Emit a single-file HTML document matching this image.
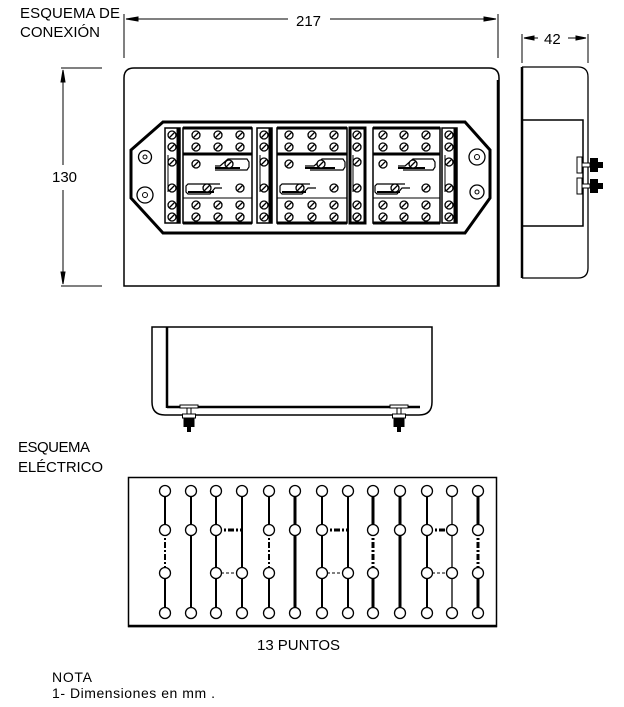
<!DOCTYPE html>
<html><head><meta charset="utf-8"><style>
html,body{margin:0;padding:0;background:#fff;}
svg{display:block}
text{font-family:"Liberation Sans",sans-serif;fill:#000}
</style></head><body>
<svg width="624" height="707" viewBox="0 0 624 707" xmlns="http://www.w3.org/2000/svg">
<defs>
<g id="s"><circle r="4" fill="#fff" stroke="#000" stroke-width="1.3"/><line x1="-2.5" y1="2.5" x2="2.5" y2="-2.5" stroke="#000" stroke-width="1.3"/></g>
<g id="n"><circle r="5.5" fill="#fff" stroke="#000" stroke-width="1.3"/></g>
<g id="ft"><rect x="-9" y="-3" width="18" height="3" fill="#fff" stroke="#000"/><rect x="-2" y="0" width="4" height="6" fill="#fff" stroke="#000"/><rect x="-6.5" y="6" width="13" height="4" fill="#fff" stroke="#000"/><rect x="-5.5" y="10" width="11" height="9" fill="#000"/><rect x="-2" y="19" width="4" height="5" fill="#000"/></g>
<g id="tm"><rect x="0" y="0" width="5" height="16" fill="#fff" stroke="#000"/><rect x="5" y="6" width="8" height="4" fill="#fff" stroke="#000"/><rect x="13" y="1" width="8" height="14" fill="#000"/><rect x="21" y="5" width="5" height="6" fill="#000"/></g>
</defs>
<g font-size="15">
<text x="20" y="18" textLength="100">ESQUEMA DE</text>
<text x="20" y="37" textLength="80">CONEXIÓN</text>
<text x="18" y="452" textLength="72">ESQUEMA</text>
<text x="18" y="472" textLength="85">ELÉCTRICO</text>
<text x="257" y="650" textLength="83">13 PUNTOS</text>
<text x="52" y="682" font-size="14" textLength="40">NOTA</text>
<text x="52" y="698" font-size="14" textLength="163">1- Dimensiones en mm .</text>
<text x="296" y="26">217</text>
<text x="52" y="182">130</text>
<text x="544" y="44">42</text>
</g>
<g stroke="#000" fill="none" stroke-width="1">
<line x1="124" y1="14" x2="124" y2="58"/><line x1="498" y1="14" x2="498" y2="58"/>
<line x1="126" y1="19" x2="288" y2="19"/><line x1="330" y1="19" x2="496" y2="19"/>
<polygon points="126,19 138,17 138,21" fill="#000"/><polygon points="496,19 484,17 484,21" fill="#000"/>
<line x1="61" y1="68" x2="102" y2="68"/><line x1="61" y1="286" x2="102" y2="286"/>
<line x1="63" y1="70" x2="63" y2="165"/><line x1="63" y1="190" x2="63" y2="284"/>
<polygon points="63,70 61,82 65,82" fill="#000"/><polygon points="63,284 61,272 65,272" fill="#000"/>
<line x1="522" y1="34" x2="522" y2="63"/><line x1="588" y1="34" x2="588" y2="63"/>
<line x1="524" y1="38" x2="538" y2="38"/><line x1="568" y1="38" x2="586" y2="38"/>
<polygon points="524,38 534,36 534,40" fill="#000"/><polygon points="586,38 576,36 576,40" fill="#000"/>
<path d="M124,286 L124,78 Q124,68 134,68 L489,68 Q499,68 499,78 L499,286 Z" stroke-width="1.5"/>
<line x1="498" y1="80" x2="498" y2="286" stroke-width="2.5"/>
<polygon points="163,122 465,122 490,150 490,198 465,233 163,233 131,198 131,150" stroke-width="3"/>
<circle cx="145" cy="157" r="6.5" stroke-width="1.3"/><circle cx="145" cy="157" r="2" />
<circle cx="145" cy="195" r="8" stroke-width="1.3"/><circle cx="145" cy="195" r="2.5"/>
<circle cx="477" cy="157" r="8" stroke-width="1.3"/><circle cx="477" cy="157" r="2.5"/>
<circle cx="477" cy="192" r="7" stroke-width="1.3"/><circle cx="477" cy="192" r="2"/>
<g stroke-width="1.5">
<rect x="165" y="128" width="15" height="95"/><line x1="178" y1="128" x2="178" y2="223" stroke-width="3"/>
<rect x="257" y="128" width="15" height="95"/><line x1="270" y1="128" x2="270" y2="223" stroke-width="3"/>
<rect x="350" y="128" width="15" height="95" stroke-width="3"/>
<rect x="442" y="128" width="15" height="95"/><line x1="455" y1="128" x2="455" y2="223" stroke-width="3"/>
<rect x="183" y="128" width="69" height="95"/>
<rect x="277" y="128" width="70" height="95"/>
<rect x="373" y="128" width="67" height="95"/>
<line x1="183" y1="128" x2="252" y2="128" stroke-width="3"/><line x1="277" y1="128" x2="347" y2="128" stroke-width="3"/><line x1="373" y1="128" x2="440" y2="128" stroke-width="3"/>
<line x1="183" y1="223" x2="252" y2="223" stroke-width="3"/><line x1="277" y1="223" x2="347" y2="223" stroke-width="3"/><line x1="373" y1="223" x2="440" y2="223" stroke-width="3"/>
</g>
<g stroke-width="3">
<line x1="183" y1="154" x2="252" y2="154"/><line x1="277" y1="154" x2="347" y2="154"/><line x1="373" y1="154" x2="440" y2="154"/>
</g>
<line x1="183" y1="198" x2="252" y2="198"/><line x1="277" y1="198" x2="347" y2="198"/><line x1="373" y1="198" x2="440" y2="198"/>
<line x1="168" y1="155" x2="168" y2="192"/><line x1="260" y1="155" x2="260" y2="192"/><line x1="353" y1="155" x2="353" y2="192"/><line x1="445" y1="155" x2="445" y2="192"/>
<g stroke-width="1.2">
<path d="M215,170 L247,170 L249,167 L249,162 L247,159 L228,159 L220,166 L215,166"/><line x1="215" y1="168" x2="240" y2="168" stroke-width="2"/>
<path d="M220,184 L188,184 L186,186 L186,192 L188,194 L210,194 L215,188 L222,188"/><line x1="188" y1="192" x2="214" y2="192" stroke-width="2"/>
<path d="M310,170 L343,170 L345,167 L345,162 L343,159 L322,159 L314,166 L305,166"/><line x1="305" y1="168" x2="335" y2="168" stroke-width="2"/>
<path d="M310,184 L282,184 L280,186 L280,192 L282,194 L302,194 L308,188 L316,188"/><line x1="282" y1="192" x2="306" y2="192" stroke-width="2"/>
<path d="M403,170 L433,170 L435,167 L435,162 L433,159 L413,159 L405,166 L398,166"/><line x1="398" y1="168" x2="425" y2="168" stroke-width="2"/>
<path d="M405,184 L377,184 L375,186 L375,192 L377,194 L397,194 L402,188 L410,188"/><line x1="377" y1="192" x2="400" y2="192" stroke-width="2"/>
</g>
<path d="M522,67 L578,67 Q588,67 588,77 L588,268 Q588,278 578,278 L522,278" stroke-width="1.3"/>
<line x1="522" y1="67" x2="522" y2="278" stroke-width="2.5"/>
<polyline points="522,120 583,120 583,226 522,226" stroke-width="1.5"/>
<path d="M152,327 L432,327 L432,402 Q432,415 419,415 L165,415 Q152,415 152,402 Z" stroke-width="1.5"/>
<line x1="167" y1="327" x2="167" y2="408" stroke-width="2.5"/>
<line x1="167" y1="407" x2="420" y2="407" stroke-width="2.5"/>
<rect x="128.5" y="477.5" width="368" height="149" stroke-width="1.5"/>
<line x1="128" y1="626" x2="497" y2="626" stroke-width="2.5"/>
</g>
<use href="#ft" x="189" y="408"/><use href="#ft" x="399" y="408"/>
<use href="#tm" x="577" y="157"/><use href="#tm" x="577" y="178"/>
<g>
<use href="#s" x="172" y="135"/><use href="#s" x="172" y="147"/><use href="#s" x="172" y="162"/><use href="#s" x="172" y="188"/><use href="#s" x="172" y="205"/><use href="#s" x="172" y="217"/>
<use href="#s" x="264" y="135"/><use href="#s" x="264" y="147"/><use href="#s" x="264" y="162"/><use href="#s" x="264" y="188"/><use href="#s" x="264" y="205"/><use href="#s" x="264" y="217"/>
<use href="#s" x="357" y="135"/><use href="#s" x="357" y="147"/><use href="#s" x="357" y="162"/><use href="#s" x="357" y="188"/><use href="#s" x="357" y="205"/><use href="#s" x="357" y="217"/>
<use href="#s" x="449" y="135"/><use href="#s" x="449" y="147"/><use href="#s" x="449" y="162"/><use href="#s" x="449" y="188"/><use href="#s" x="449" y="205"/><use href="#s" x="449" y="217"/>
<use href="#s" x="196" y="135"/><use href="#s" x="218" y="135"/><use href="#s" x="240" y="135"/>
<use href="#s" x="196" y="147"/><use href="#s" x="218" y="147"/><use href="#s" x="240" y="147"/>
<use href="#s" x="196" y="205"/><use href="#s" x="218" y="205"/><use href="#s" x="240" y="205"/>
<use href="#s" x="196" y="217"/><use href="#s" x="218" y="217"/><use href="#s" x="240" y="217"/>
<use href="#s" x="196" y="164"/><use href="#s" x="229" y="164"/><use href="#s" x="207" y="188"/><use href="#s" x="240" y="188"/>
<use href="#s" x="289" y="135"/><use href="#s" x="312" y="135"/><use href="#s" x="334" y="135"/>
<use href="#s" x="289" y="147"/><use href="#s" x="312" y="147"/><use href="#s" x="334" y="147"/>
<use href="#s" x="289" y="205"/><use href="#s" x="312" y="205"/><use href="#s" x="334" y="205"/>
<use href="#s" x="289" y="217"/><use href="#s" x="312" y="217"/><use href="#s" x="334" y="217"/>
<use href="#s" x="289" y="164"/><use href="#s" x="321" y="164"/><use href="#s" x="300" y="188"/><use href="#s" x="334" y="188"/>
<use href="#s" x="383" y="135"/><use href="#s" x="404" y="135"/><use href="#s" x="426" y="135"/>
<use href="#s" x="383" y="147"/><use href="#s" x="404" y="147"/><use href="#s" x="426" y="147"/>
<use href="#s" x="383" y="205"/><use href="#s" x="404" y="205"/><use href="#s" x="426" y="205"/>
<use href="#s" x="383" y="217"/><use href="#s" x="404" y="217"/><use href="#s" x="426" y="217"/>
<use href="#s" x="383" y="164"/><use href="#s" x="413" y="164"/><use href="#s" x="395" y="188"/><use href="#s" x="426" y="188"/>
</g>
<g stroke="#000" fill="none">
<g stroke-width="2">
<line x1="165" y1="491" x2="165" y2="530"/><line x1="165" y1="530" x2="165" y2="573" stroke-dasharray="6,2,2,2"/><line x1="165" y1="573" x2="165" y2="613"/>
<line x1="191" y1="491" x2="191" y2="613"/>
<line x1="216" y1="491" x2="216" y2="613"/>
<line x1="242" y1="491" x2="242" y2="613"/>
<line x1="269" y1="491" x2="269" y2="530"/><line x1="269" y1="530" x2="269" y2="573" stroke-dasharray="6,2,2,2"/><line x1="269" y1="573" x2="269" y2="613"/>
<line x1="322" y1="491" x2="322" y2="613"/><line x1="348" y1="491" x2="348" y2="613"/>
<line x1="427" y1="491" x2="427" y2="613"/>
</g>
<g stroke-width="3">
<line x1="295" y1="491" x2="295" y2="613"/>
<line x1="373" y1="491" x2="373" y2="530"/><line x1="373" y1="530" x2="373" y2="573" stroke-dasharray="6,2,2,2"/><line x1="373" y1="573" x2="373" y2="613"/>
<line x1="400" y1="491" x2="400" y2="613"/>
<line x1="478" y1="491" x2="478" y2="530"/><line x1="478" y1="530" x2="478" y2="573" stroke-dasharray="6,2,2,2"/><line x1="478" y1="573" x2="478" y2="613"/>
<line x1="216" y1="530" x2="242" y2="530" stroke-dasharray="6,2,2,2"/>
<line x1="322" y1="530" x2="348" y2="530" stroke-dasharray="6,2,2,2"/>
<line x1="427" y1="530" x2="452" y2="530" stroke-dasharray="6,2,2,2"/>
</g>
<line x1="452" y1="491" x2="452" y2="613" stroke-width="1.3"/>
<g stroke-width="1" stroke-dasharray="3,2">
<line x1="216" y1="573" x2="242" y2="573"/><line x1="322" y1="573" x2="348" y2="573"/><line x1="427" y1="573" x2="452" y2="573"/>
</g>
</g>
<g>
<use href="#n" x="165" y="491"/><use href="#n" x="191" y="491"/><use href="#n" x="216" y="491"/><use href="#n" x="242" y="491"/><use href="#n" x="269" y="491"/><use href="#n" x="295" y="491"/><use href="#n" x="322" y="491"/><use href="#n" x="348" y="491"/><use href="#n" x="373" y="491"/><use href="#n" x="400" y="491"/><use href="#n" x="427" y="491"/><use href="#n" x="452" y="491"/><use href="#n" x="478" y="491"/>
<use href="#n" x="165" y="530"/><use href="#n" x="191" y="530"/><use href="#n" x="216" y="530"/><use href="#n" x="269" y="530"/><use href="#n" x="295" y="530"/><use href="#n" x="322" y="530"/><use href="#n" x="373" y="530"/><use href="#n" x="400" y="530"/><use href="#n" x="427" y="530"/><use href="#n" x="452" y="530"/><use href="#n" x="478" y="530"/>
<use href="#n" x="165" y="573"/><use href="#n" x="216" y="573"/><use href="#n" x="242" y="573"/><use href="#n" x="269" y="573"/><use href="#n" x="322" y="573"/><use href="#n" x="348" y="573"/><use href="#n" x="373" y="573"/><use href="#n" x="427" y="573"/><use href="#n" x="452" y="573"/><use href="#n" x="478" y="573"/>
<use href="#n" x="165" y="613"/><use href="#n" x="191" y="613"/><use href="#n" x="216" y="613"/><use href="#n" x="242" y="613"/><use href="#n" x="269" y="613"/><use href="#n" x="295" y="613"/><use href="#n" x="322" y="613"/><use href="#n" x="348" y="613"/><use href="#n" x="373" y="613"/><use href="#n" x="400" y="613"/><use href="#n" x="427" y="613"/><use href="#n" x="452" y="613"/><use href="#n" x="478" y="613"/>
</g>
</svg>
</body></html>
